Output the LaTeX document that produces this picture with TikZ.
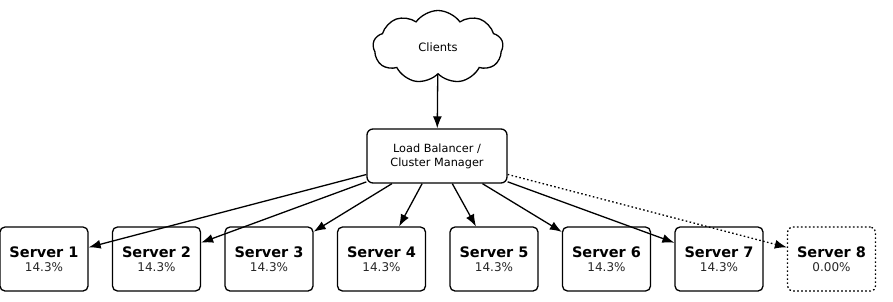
\documentclass[tikz,border=0pt]{standalone}
\usepackage{fontspec}
\setmainfont{DejaVu Sans}
\usetikzlibrary{shapes.symbols,arrows.meta}

\tikzset{
  server/.style={draw, line width=1.3pt, rounded corners=5pt, minimum width=88pt,
    minimum height=64pt, align=center, inner sep=0pt, font=\fontsize{12}{14}\selectfont},
  balancer/.style={draw, line width=1.3pt, rounded corners=6pt, minimum width=140pt,
    minimum height=54pt, align=center, font=\fontsize{11.3}{14}\selectfont},
  link/.style={line width=1.3pt, -{Latex[length=12pt,width=9pt]}},
  idle/.style={dash pattern=on 1.6pt off 2.4pt},
}

\begin{document}
\begin{tikzpicture}[x=1pt,y=-1pt]
  \useasboundingbox (0,0) rectangle (893,301);

  % Clients and the balancer
  \node[cloud, draw, line width=1.3pt, cloud puffs=9, cloud puff arc=110, aspect=1.8,
    minimum width=130pt, minimum height=73pt, font=\fontsize{11.5}{14}\selectfont]
    (clients) at (438,47) {Clients};
  \node[balancer] (lb) at (437,156) {Load Balancer /\\Cluster Manager};
  \draw[link] (clients) -- (lb);

  % Active servers
  \foreach \i in {1,...,7} {
    \node[server] (s\i) at ({44+112.5*(\i-1)},259)
      {{\fontsize{14.5}{14}\bfseries Server \i}\\{\color{black!85}14.3\%}};
    \draw[link] (lb) -- (s\i);
  }

  % Spare server
  \node[server, idle] (s8) at (831.5,259)
    {{\fontsize{14.5}{14}\bfseries Server 8}\\{\color{black!85}0.00\%}};
  \draw[link, idle] (lb) -- (s8);
\end{tikzpicture}
\end{document}
